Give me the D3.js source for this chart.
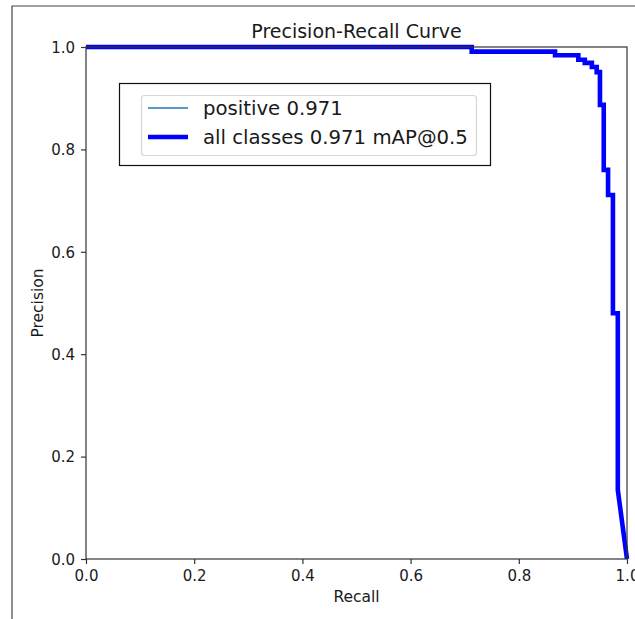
<!DOCTYPE html>
<html><head><meta charset="utf-8">
<script src="https://cdn.jsdelivr.net/npm/d3@7"></script>
<style>body{margin:0;background:#fff}svg{display:block}text{font-family:"DejaVu Sans",sans-serif;fill:#1a1a1a}</style>
</head><body>
<svg id="c" width="635" height="619"></svg>
<script>
const recall =    [0, 0.713, 0.713, 0.867, 0.867, 0.910, 0.910, 0.922, 0.922, 0.935, 0.935, 0.944, 0.944, 0.950, 0.950, 0.957, 0.957, 0.965, 0.965, 0.974, 0.974, 0.983, 0.983, 1.0];
const precision = [1.0, 1.0, 0.991, 0.991, 0.984, 0.984, 0.975, 0.975, 0.969, 0.969, 0.961, 0.961, 0.951, 0.951, 0.887, 0.887, 0.760, 0.760, 0.711, 0.711, 0.480, 0.480, 0.135, 0.0];
const ticks = [0, 0.2, 0.4, 0.6, 0.8, 1.0];
const seriesNames = ["positive 0.971", "all classes 0.971 mAP@0.5"];
const seriesColors = ["#1f77b4", "#0000ff"];
const seriesWidths = [1.5, 4.6];

const svg = d3.select("#c");
const L = 86, R = 627, T = 47, B = 559;
const x = d3.scaleLinear().domain([0, 1]).range([L, R]);
const y = d3.scaleLinear().domain([0, 1]).range([B, T]);

// outer frame
svg.append("path").attr("d", "M12,619 L12,6 L640,6").attr("fill", "none").attr("stroke", "#444").attr("stroke-width", 1.2);

const pts = recall.map((r, i) => [r, precision[i]]);
const line = d3.line().x(d => x(d[0])).y(d => y(d[1]));
svg.append("defs").append("clipPath").attr("id", "clip").append("rect").attr("x", L).attr("y", T - 3).attr("width", R - L + 3).attr("height", B - T + 3);
const g = svg.append("g").attr("clip-path", "url(#clip)");
g.append("path").datum(pts).attr("d", line).attr("fill", "none").attr("stroke", seriesColors[1]).attr("stroke-width", seriesWidths[1]);
g.append("path").datum(pts).attr("d", line).attr("fill", "none").attr("stroke", seriesColors[0]).attr("stroke-width", seriesWidths[0]).attr("opacity", 0);

// axes
const xa = svg.append("g").attr("transform", `translate(0,${B})`).call(d3.axisBottom(x).tickValues(ticks).tickFormat(d3.format(".1f")).tickSize(5).tickSizeOuter(0));
const ya = svg.append("g").attr("transform", `translate(${L},0)`).call(d3.axisLeft(y).tickValues(ticks).tickFormat(d3.format(".1f")).tickSize(5).tickSizeOuter(0));
[xa, ya].forEach(a => {
  a.select(".domain").remove();
  a.selectAll("line").attr("stroke", "#333").attr("stroke-width", 1.2);
  a.selectAll("text").style("font-family", "DejaVu Sans").style("font-size", "15px").attr("fill", "#1a1a1a");
});
xa.selectAll("text").attr("dy", null).attr("y", 21.5);
ya.selectAll("text").attr("x", -11).attr("dy", "0.35em");
svg.append("rect").attr("x", L).attr("y", T).attr("width", R - L).attr("height", B - T).attr("fill", "none").attr("stroke", "#333").attr("stroke-width", 1.2);

// labels
svg.append("text").attr("x", (L + R) / 2).attr("y", 38).attr("text-anchor", "middle").style("font-size", "19px").text("Precision-Recall Curve");
svg.append("text").attr("x", (L + R) / 2).attr("y", 602).attr("text-anchor", "middle").style("font-size", "15.5px").text("Recall");
svg.append("text").attr("transform", `translate(43,${(T + B) / 2}) rotate(-90)`).attr("text-anchor", "middle").style("font-size", "15.5px").text("Precision");

// legend
svg.append("rect").attr("x", 119.5).attr("y", 83.5).attr("width", 371).attr("height", 82).attr("fill", "#fff").attr("stroke", "#111").attr("stroke-width", 1.2);
svg.append("rect").attr("x", 141.5).attr("y", 95.5).attr("width", 335).attr("height", 60).attr("rx", 3).attr("fill", "#fff").attr("stroke", "#d6d6d6").attr("stroke-width", 1.2);
const rowsY = [108, 137];
seriesNames.forEach((n, i) => {
  svg.append("line").attr("x1", 148).attr("x2", 188).attr("y1", rowsY[i]).attr("y2", rowsY[i]).attr("stroke", seriesColors[i]).attr("stroke-width", seriesWidths[i]);
  svg.append("text").attr("x", 203).attr("y", rowsY[i]).attr("dy", "0.36em").style("font-size", "19.7px").text(n);
});
</script>
</body></html>
